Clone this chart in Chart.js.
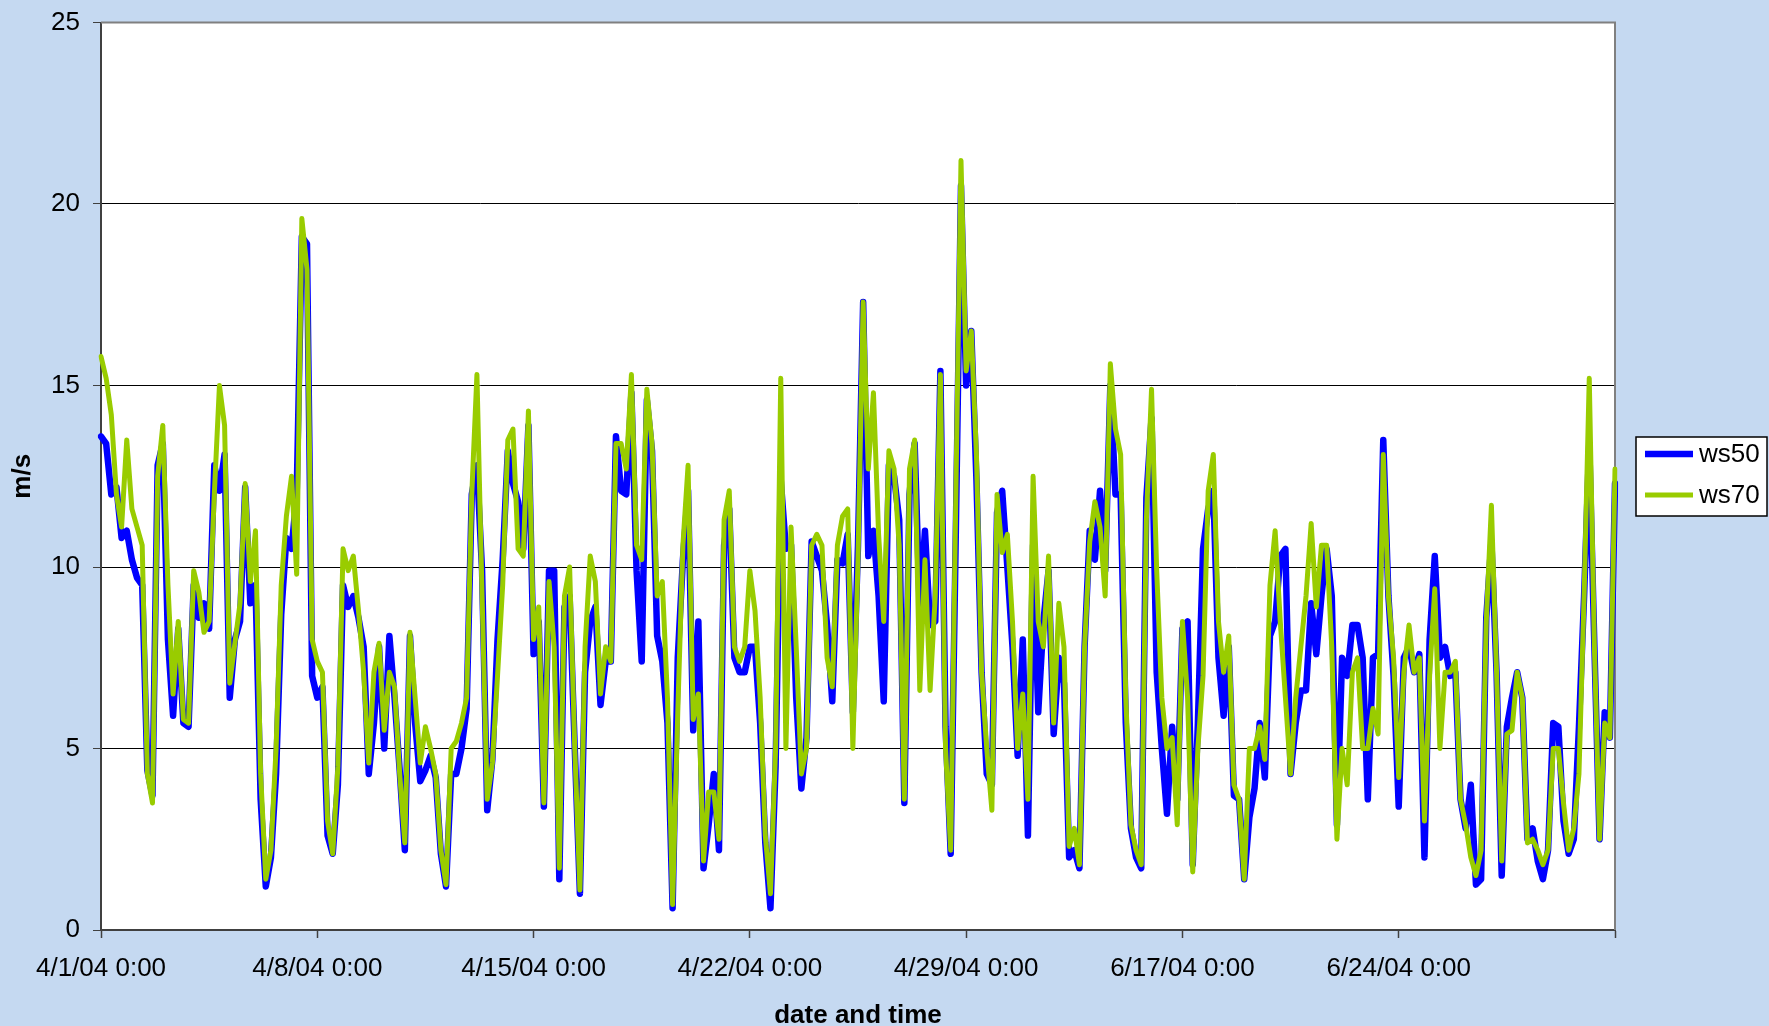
<!DOCTYPE html>
<html>
<head>
<meta charset="utf-8">
<title>ws50 / ws70</title>
<script src="https://cdn.jsdelivr.net/npm/chart.js@4.4.1/dist/chart.umd.min.js"></script>
<style>
  html, body { margin: 0; padding: 0; background: #c5d9f1; }
  #chart { display: block; }
</style>
</head>
<body>
<canvas id="chart" width="1769" height="1026"></canvas>
<script>
//--- tick labels shown on the date axis (one per block of data)
var tickLabels = ['4/1/04 0:00', '4/8/04 0:00', '4/15/04 0:00', '4/22/04 0:00',
                  '4/29/04 0:00', '6/17/04 0:00', '6/24/04 0:00'];
// first day of every block (month, day) - the file jumps from 4/29 to 6/17
var blockStarts = [[4, 1], [4, 8], [4, 15], [4, 22], [4, 29], [6, 17], [6, 24]];
var endLabel = '7/1/04 0:00';
var stepHours = 4;
var perBlock = 42;

//--- wind speed at 50 m (m/s), 4-hourly
var ws50 = [
    13.6, 13.4, 12.0, 12.2, 10.8, 11.0, 10.2, 9.7, 9.5, 4.4, 3.7, 12.8, 13.4, 8.0, 5.9, 8.3, 5.7, 5.6, 9.5, 8.6, 9.0,
    8.3, 12.8, 12.1, 13.1, 6.4, 8.0, 8.5, 12.2, 9.0, 9.5, 3.6, 1.2, 2.0, 4.3, 8.7, 10.8, 10.5, 12.0, 19.1, 18.9, 7.0,
    6.4, 6.7, 2.6, 2.1, 4.0, 9.5, 8.9, 9.2, 8.6, 7.8, 4.3, 5.7, 7.8, 5.0, 8.1, 6.4, 4.4, 2.2, 8.1, 5.7, 4.1,
    4.4, 4.8, 4.2, 2.1, 1.2, 4.3, 4.3, 5.0, 6.1, 12.0, 12.8, 9.9, 3.3, 4.7, 8.0, 10.2, 13.2, 12.3, 11.8, 10.5, 13.9,
    7.6, 8.5, 3.4, 9.9, 9.9, 1.4, 8.9, 9.2, 5.0, 1.0, 7.1, 8.5, 8.9, 6.2, 7.4, 7.4, 13.6, 12.1, 12.0, 14.8, 9.9,
    7.4, 14.6, 13.2, 8.1, 7.4, 5.7, 0.6, 7.5, 10.2, 12.1, 5.5, 8.5, 1.7, 2.9, 4.3, 2.2, 10.6, 11.6, 7.5, 7.1, 7.1,
    7.8, 7.8, 5.7, 2.4, 0.6, 4.5, 12.4, 10.5, 10.6, 6.4, 3.9, 5.3, 10.7, 10.3, 9.9, 8.4, 6.3, 10.2, 10.1, 10.9, 6.0,
    10.6, 17.3, 10.3, 11.0, 9.2, 6.3, 12.8, 12.5, 11.3, 3.5, 12.0, 13.4, 8.8, 11.0, 8.4, 8.5, 15.4, 5.6, 2.1, 11.0, 20.5,
    15.0, 16.5, 12.4, 7.1, 4.3, 4.0, 11.5, 12.1, 10.0, 7.8, 4.8, 8.0, 2.6, 10.6, 6.0, 8.5, 9.9, 5.4, 7.5, 6.8, 2.0,
    2.2, 1.7, 7.8, 11.0, 10.2, 12.1, 9.9, 15.0, 12.0, 12.0, 5.7, 2.8, 2.0, 1.7, 11.9, 14.1, 7.1, 5.0, 3.2, 5.6, 3.6,
    8.3, 8.5, 1.8, 5.7, 10.5, 11.6, 12.1, 7.5, 5.9, 7.8, 3.7, 3.6, 1.4, 3.1, 3.9, 5.7, 4.2, 8.1, 8.5, 10.3, 10.5,
    4.3, 5.7, 6.6, 6.6, 9.0, 7.6, 9.2, 10.5, 9.2, 2.9, 7.5, 7.0, 8.4, 8.4, 7.5, 3.6, 7.5, 7.6, 13.5, 9.2, 7.0,
    3.4, 7.5, 7.8, 7.1, 7.6, 2.0, 8.0, 10.3, 7.5, 7.8, 7.0, 7.1, 3.6, 2.8, 4.0, 1.25, 1.4, 8.6, 10.7, 7.1, 1.5,
    5.6, 6.4, 7.1, 6.4, 2.5, 2.8, 1.9, 1.4, 2.2, 5.7, 5.6, 3.0, 2.1, 2.5, 5.6, 9.2, 13.4, 7.8, 2.5, 6.0, 5.3,
    12.3
];

//--- wind speed at 70 m (m/s), 4-hourly
var ws70 = [
    15.8, 15.2, 14.2, 12.0, 11.1, 13.5, 11.6, 11.1, 10.6, 4.3, 3.5, 12.5, 13.9, 9.5, 6.5, 8.5, 5.8, 5.7, 9.9, 9.3, 8.2,
    8.5, 12.0, 15.0, 13.9, 6.8, 7.9, 9.0, 12.3, 9.6, 11.0, 4.3, 1.4, 2.2, 5.0, 9.5, 11.4, 12.5, 9.8, 19.6, 18.2, 8.0,
    7.4, 7.1, 3.0, 2.1, 4.5, 10.5, 9.9, 10.3, 8.8, 7.1, 4.6, 7.1, 7.9, 5.5, 7.1, 6.7, 4.3, 2.4, 8.2, 6.4, 4.6,
    5.6, 5.0, 4.3, 2.2, 1.25, 5.0, 5.2, 5.7, 6.4, 12.0, 15.3, 9.2, 3.6, 4.6, 7.0, 9.5, 13.5, 13.8, 10.5, 10.3, 14.3,
    8.0, 8.9, 3.5, 9.6, 7.8, 1.7, 9.2, 10.0, 5.0, 1.1, 7.8, 10.3, 9.6, 6.5, 7.8, 7.4, 13.4, 13.4, 12.7, 15.3, 10.6,
    10.2, 14.9, 13.4, 9.2, 9.6, 6.4, 0.7, 6.0, 10.6, 12.8, 5.8, 6.5, 1.9, 3.8, 3.8, 2.5, 11.3, 12.1, 7.8, 7.4, 7.8,
    9.9, 8.8, 6.4, 2.6, 1.0, 5.0, 15.2, 5.0, 11.1, 7.8, 4.3, 5.0, 10.6, 10.9, 10.6, 7.5, 6.7, 10.6, 11.4, 11.6, 5.0,
    10.2, 17.3, 12.7, 14.8, 10.9, 8.5, 13.2, 12.7, 10.6, 3.6, 12.7, 13.5, 6.6, 10.2, 6.6, 9.2, 15.3, 5.0, 2.2, 12.0, 21.2,
    15.4, 16.5, 13.1, 7.1, 5.0, 3.3, 12.0, 10.4, 10.9, 8.5, 5.0, 6.5, 3.6, 12.5, 8.5, 7.8, 10.3, 5.7, 9.0, 7.8, 2.3,
    2.8, 1.8, 7.8, 10.7, 11.8, 11.1, 9.2, 15.6, 13.8, 13.1, 6.4, 2.9, 2.2, 1.8, 11.3, 14.9, 9.9, 6.4, 5.0, 5.3, 2.9,
    8.5, 6.4, 1.6, 5.0, 7.0, 12.1, 13.1, 8.5, 7.1, 8.1, 4.0, 3.6, 1.4, 5.0, 5.0, 5.6, 4.7, 9.5, 11.0, 8.5, 6.4,
    4.3, 6.4, 7.8, 9.2, 11.2, 8.9, 10.6, 10.6, 7.8, 2.5, 5.0, 4.0, 7.1, 7.5, 5.0, 5.0, 6.1, 5.4, 13.1, 9.2, 7.5,
    4.2, 7.1, 8.4, 7.1, 7.5, 3.0, 7.0, 9.4, 5.0, 7.1, 7.1, 7.4, 3.6, 2.9, 2.0, 1.5, 2.2, 8.5, 11.7, 7.1, 1.9,
    5.4, 5.5, 7.1, 6.4, 2.4, 2.5, 2.2, 1.8, 2.2, 5.0, 5.0, 3.5, 2.2, 2.8, 4.3, 9.2, 15.2, 7.8, 2.5, 5.7, 5.3,
    12.7
];

//--- category labels, one per reading
var categories = [];
blockStarts.forEach(function (b) {
    for (var i = 0; i < perBlock; i++) {
        var h = i * stepHours;
        var d = new Date(2004, b[0] - 1, b[1] + Math.floor(h / 24), h % 24);
        categories.push((d.getMonth() + 1) + '/' + d.getDate() + '/04 ' + d.getHours() + ':00');
    }
});
categories.push(endLabel);

var FONT = '"Liberation Sans", Arial, sans-serif';
Chart.defaults.font.family = FONT;
Chart.defaults.font.size = 26;
Chart.defaults.color = '#000000';

// light blue page + white plot area
var bgPlugin = {
    id: 'bg',
    beforeDraw: function (chart) {
        var c = chart.ctx, a = chart.chartArea;
        c.save();
        c.fillStyle = '#c5d9f1';
        c.fillRect(0, 0, chart.width, chart.height);
        c.fillStyle = '#ffffff';
        c.fillRect(a.left, a.top, a.right - a.left, a.bottom - a.top);
        c.restore();
    }
};

// grey top / right edge of the plot area
var framePlugin = {
    id: 'frame',
    beforeDatasetsDraw: function (chart) {
        var c = chart.ctx, a = chart.chartArea;
        c.save();
        c.strokeStyle = '#808080';
        c.lineWidth = 2;
        c.beginPath();
        c.moveTo(a.left, a.top);
        c.lineTo(a.right, a.top);
        c.lineTo(a.right, a.bottom);
        c.stroke();
        c.restore();
    }
};

// boxed legend on the right, like the spreadsheet one
var boxLegend = {
    id: 'boxLegend',
    afterDraw: function (chart) {
        var c = chart.ctx;
        var x = 1636, y = 437, w = 131, h = 79;
        c.save();
        c.fillStyle = '#ffffff';
        c.fillRect(x, y, w, h);
        c.strokeStyle = '#000000';
        c.lineWidth = 1.5;
        c.strokeRect(x, y, w, h);
        var rows = [17, 58];
        chart.data.datasets.forEach(function (ds, i) {
            var cy = y + rows[i];
            c.strokeStyle = ds.borderColor;
            c.lineWidth = i === 0 ? 6.5 : 5;
            c.beginPath();
            c.moveTo(x + 9, cy);
            c.lineTo(x + 57, cy);
            c.stroke();
            c.fillStyle = '#000000';
            c.font = '26px ' + FONT;
            c.textBaseline = 'middle';
            c.fillText(ds.label, x + 63, cy + 1);
        });
        c.restore();
    }
};

var ctx = document.getElementById('chart');
new Chart(ctx, {
    type: 'line',
    data: {
        labels: categories,
        datasets: [{
            label: 'ws50',
            data: ws50,
            borderColor: '#0000ff',
            backgroundColor: '#0000ff',
            borderWidth: 6.5,
            order: 2
        },
        {
            label: 'ws70',
            data: ws70,
            borderColor: '#99cc00',
            backgroundColor: '#99cc00',
            borderWidth: 5,
            order: 1
        }]
    },
    options: {
        responsive: false,
        animation: false,
        layout: { padding: { left: 0, top: 22.5, right: 154, bottom: 0 } },
        elements: {
            point: { radius: 0, hoverRadius: 0 },
            line: { tension: 0, borderJoinStyle: 'round', borderCapStyle: 'round' }
        },
        plugins: {
            legend: { display: false },
            tooltip: { enabled: false }
        },
        scales: {
            x: {
                type: 'category',
                offset: false,
                grid: { drawOnChartArea: false, tickLength: 8, tickColor: '#404040', tickWidth: 1.5 },
                border: { color: '#404040', width: 2 },
                ticks: {
                    autoSkip: false,
                    maxRotation: 0,
                    padding: 15,
                    callback: function (value) {
                        return tickLabels[value / perBlock] || '';
                    }
                },
                afterBuildTicks: function (axis) {
                    axis.ticks = axis.ticks.filter(function (t) { return t.value % perBlock === 0; });
                },
                afterFit: function (axis) { axis.height = 96; },
                title: {
                    display: true,
                    text: 'date and time',
                    font: { weight: 'bold', size: 26, lineHeight: 1 },
                    padding: { top: 0, bottom: -3 }
                }
            },
            y: {
                min: 0,
                max: 25,
                ticks: { stepSize: 5, padding: 13 },
                grid: {
                    color: function (c) { return c.tick && c.tick.value === 25 ? '#808080' : '#000000'; },
                    lineWidth: 1,
                    tickLength: 8,
                    tickColor: '#404040'
                },
                border: { color: '#404040', width: 2 },
                afterFit: function (axis) {
                    axis.width = 101;
                    axis.paddingTop = 0;
                    axis.paddingBottom = 0;
                },
                title: {
                    display: true,
                    text: 'm/s',
                    font: { weight: 'bold', size: 26, lineHeight: 1 },
                    padding: { top: 10, bottom: 0 }
                }
            }
        }
    },
    plugins: [bgPlugin, framePlugin, boxLegend]
});
</script>
</body>
</html>
